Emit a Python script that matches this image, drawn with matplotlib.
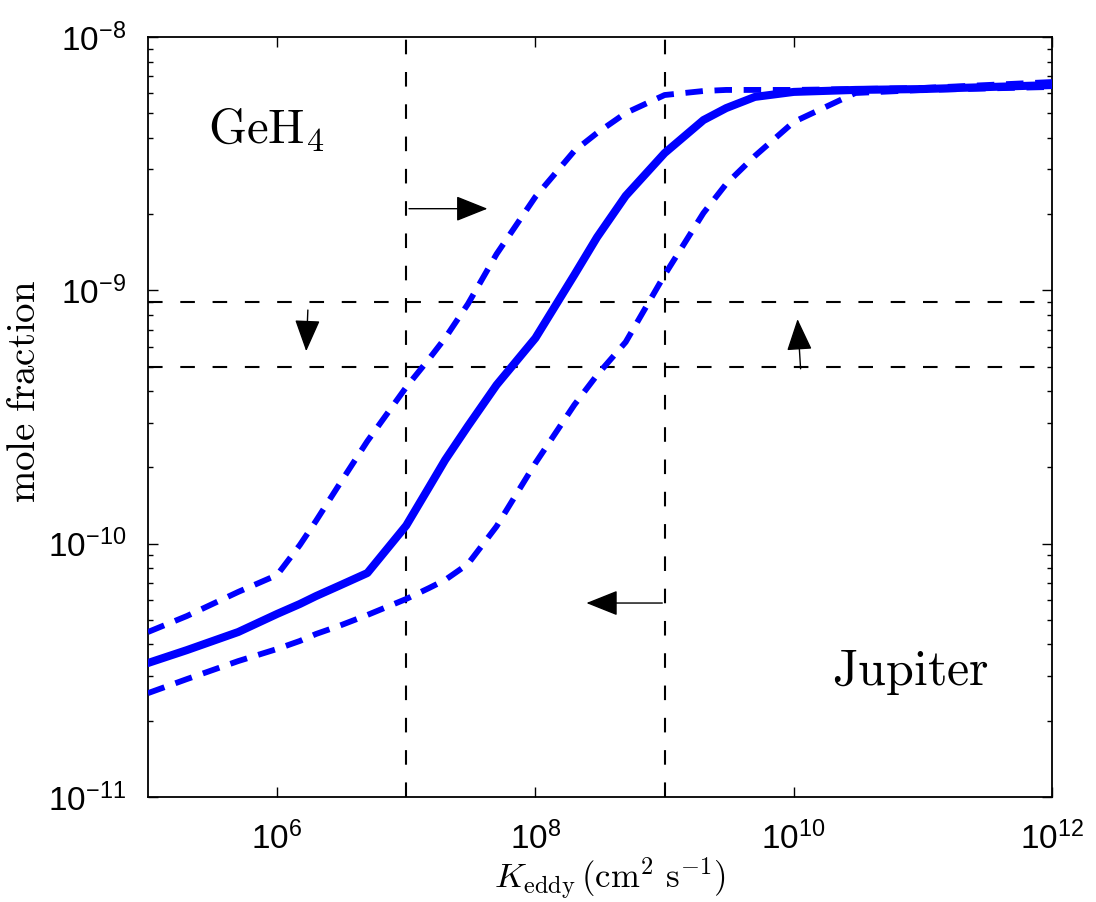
import numpy as np
import matplotlib
matplotlib.use('Agg')
import matplotlib.pyplot as plt
from matplotlib.ticker import FixedLocator, FixedFormatter, LogLocator, NullFormatter

plt.rcParams['mathtext.fontset'] = 'custom'
plt.rcParams['mathtext.rm'] = 'Liberation Sans'
plt.rcParams['mathtext.it'] = 'Liberation Sans:italic'
plt.rcParams['mathtext.bf'] = 'Liberation Sans:bold'
plt.rcParams['font.family'] = 'Liberation Sans'

# eddy diffusion coefficient (cm^2 s^-1)
kzz = [1e5, 2e5, 5e5, 1e6, 1.5e6, 2e6, 3e6, 5e6, 1e7, 1.5e7, 2e7, 3e7, 5e7,
       1e8, 2e8, 3e8, 5e8, 1e9, 2e9, 3e9, 5e9, 1e10, 3e10, 1e11, 1e12]
# GeH4 mole fraction, nominal case and the two bounding cases
geh4_mid = [3.38e-11, 3.80e-11, 4.48e-11, 5.28e-11, 5.78e-11, 6.21e-11,
            6.81e-11, 7.66e-11, 1.18e-10, 1.67e-10, 2.14e-10, 2.91e-10,
            4.23e-10, 6.48e-10, 1.15e-9, 1.62e-9, 2.36e-9, 3.48e-9,
            4.70e-9, 5.24e-9, 5.80e-9, 6.07e-9, 6.18e-9, 6.23e-9, 6.46e-9]
geh4_hi = [4.48e-11, 5.18e-11, 6.45e-11, 7.52e-11, 9.88e-11, 1.23e-10,
           1.70e-10, 2.54e-10, 4.15e-10, 5.36e-10, 6.48e-10, 8.83e-10,
           1.39e-9, 2.34e-9, 3.55e-9, 4.18e-9, 5.01e-9, 5.90e-9,
           6.12e-9, 6.18e-9, 6.18e-9, 6.18e-9, 6.23e-9, 6.29e-9, 6.64e-9]
geh4_lo = [2.57e-11, 2.92e-11, 3.44e-11, 3.84e-11, 4.13e-11, 4.40e-11,
           4.73e-11, 5.23e-11, 6.05e-11, 6.68e-11, 7.19e-11, 8.31e-11,
           1.17e-10, 2.08e-10, 3.53e-10, 4.63e-10, 6.25e-10, 1.15e-9,
           2.02e-9, 2.63e-9, 3.39e-9, 4.62e-9, 6.01e-9, 6.18e-9, 6.35e-9]

# observed range and Kzz bounds
obs_lo, obs_hi = 5e-10, 9e-10
k_lo, k_hi = 1e7, 1e9

fig = plt.figure(figsize=(10.96, 9.02), dpi=100)
ax = fig.add_axes([0.135, 0.1164, 0.8249, 0.8426])

ax.plot(kzz, geh4_mid, color='#0000ff', lw=5.8, zorder=3)
ax.plot(kzz, geh4_hi, color='#0000ff', lw=4.2, dashes=(3.0, 2.0), zorder=4)
ax.plot(kzz, geh4_lo, color='#0000ff', lw=4.2, dashes=(3.0, 2.0), zorder=4)

for y in (obs_lo, obs_hi):
    ax.axhline(y, color='k', lw=1.5, dashes=(7, 8.5), zorder=2)
for x in (k_lo, k_hi):
    ax.axvline(x, color='k', lw=1.5, dashes=(7, 8.5), zorder=2)

arrow = dict(arrowstyle='-|>,head_length=1.0,head_width=0.4', color='k',
             lw=1.0, shrinkA=0, shrinkB=0, mutation_scale=20)
ax.annotate('', xy=(4.25e7, 2.1e-9), xytext=(1.05e7, 2.1e-9), arrowprops=arrow)
ax.annotate('', xy=(1.68e6, 5.75e-10), xytext=(1.73e6, 8.36e-10), arrowprops=arrow)
ax.annotate('', xy=(1.07e10, 7.7e-10), xytext=(1.13e10, 4.9e-10), arrowprops=arrow)
ax.annotate('', xy=(2.48e8, 5.83e-11), xytext=(9.6e8, 5.83e-11), arrowprops=arrow)

ax.text(2.9e5, 3.78e-9, r'$\mathrm{GeH_4}$', fontsize=35, math_fontfamily='cm')
ax.text(1.97e10, 2.77e-11, r'$\mathrm{Jupiter}$', fontsize=36, math_fontfamily='cm')

ax.set_xscale('log')
ax.set_yscale('log')
ax.set_xlim(1e5, 1e12)
ax.set_ylim(1e-11, 1e-8)

ax.xaxis.set_major_locator(FixedLocator([1e6, 1e8, 1e10, 1e12]))
ax.xaxis.set_major_formatter(FixedFormatter([r'$10^{6}$', r'$10^{8}$',
                                             r'$10^{10}$', r'$10^{12}$']))
ax.xaxis.set_minor_locator(FixedLocator([]))
ax.yaxis.set_major_locator(FixedLocator([1e-11, 1e-10, 1e-9, 1e-8]))
ax.yaxis.set_major_formatter(FixedFormatter([r'$10^{-11}$', r'$10^{-10}$',
                                             r'$10^{-9}$', r'$10^{-8}$']))
ax.yaxis.set_minor_locator(LogLocator(base=10, subs=np.arange(2, 10)))
ax.yaxis.set_minor_formatter(NullFormatter())

ax.tick_params(which='both', direction='in', top=True, right=True,
               labelsize=24, width=1.0)
ax.tick_params(which='major', length=7)
ax.tick_params(which='minor', length=3.5)
ax.tick_params(axis='x', pad=18)
ax.tick_params(axis='y', pad=16)
for s in ax.spines.values():
    s.set_linewidth(1.3)

ax.set_xlabel(r'$K_{\rm eddy}\,(\rm cm^2\ s^{-1})$', fontsize=25,
              math_fontfamily='cm')
ax.xaxis.set_label_coords(0.511, -0.077)
ax.set_ylabel(r'$\mathrm{mole\ fraction}$', fontsize=28, math_fontfamily='cm')
ax.yaxis.set_label_coords(-0.116, 0.534)

fig.savefig('out.png', dpi=100)
